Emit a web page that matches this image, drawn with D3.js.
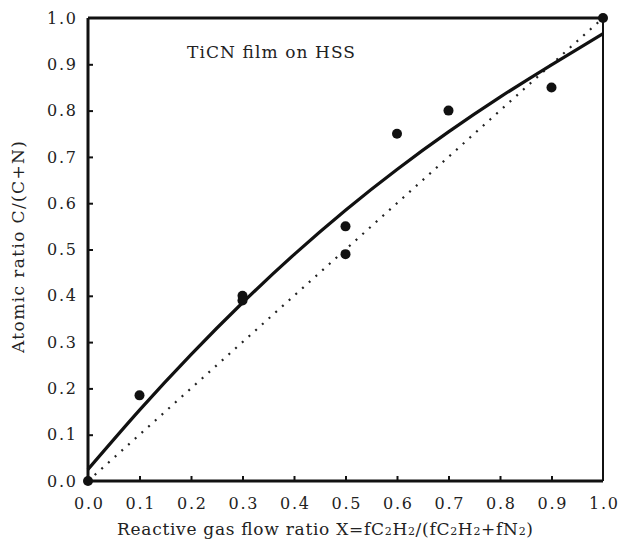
<!DOCTYPE html>
<html>
<head>
<meta charset="utf-8">
<script src="https://cdn.jsdelivr.net/npm/d3@7"></script>
<style>
  body { margin: 0; background: #fff; }
  svg text { font-family: "DejaVu Serif", "Liberation Serif", serif; fill: #222; }
</style>
</head>
<body>
<svg id="chart" width="618" height="541"></svg>
<script>
// measured points (X, C/(C+N))
const measuredX = [0.0, 0.1, 0.3, 0.3, 0.5, 0.5, 0.6, 0.7, 0.9, 1.0];
const measuredY = [0.0, 0.185, 0.40, 0.39, 0.55, 0.49, 0.75, 0.80, 0.85, 1.0];

// fitted solid curve
const fitX = [0.0, 0.1, 0.2, 0.3, 0.4, 0.5, 0.6, 0.7, 0.8, 0.9, 1.0];
const fitY = [0.025, 0.153, 0.273, 0.385, 0.489, 0.585, 0.673, 0.754, 0.829, 0.899, 0.966];

// dotted reference line
const refX = [0.0, 1.0];
const refY = [0.0, 1.0];

const ticks = [0, 0.1, 0.2, 0.3, 0.4, 0.5, 0.6, 0.7, 0.8, 0.9, 1.0];

const svg = d3.select('#chart');
const padL = 88, padR = 603, padT = 18, padB = 481;

const x = d3.scaleLinear().domain([0, 1]).range([padL, padR]);
const y = d3.scaleLinear().domain([0, 1]).range([padB, padT]);
const fmt = d3.format('.1f');

// axes, ticks pointing inside
const xAxis = svg.append('g')
  .attr('transform', 'translate(0,' + padB + ')')
  .call(d3.axisBottom(x).tickValues(ticks).tickFormat(fmt).tickSizeInner(-5).tickSizeOuter(0).tickPadding(17));
const yAxis = svg.append('g')
  .attr('transform', 'translate(' + padL + ',0)')
  .call(d3.axisLeft(y).tickValues(ticks).tickFormat(fmt).tickSizeInner(-5).tickSizeOuter(0).tickPadding(12));

[xAxis, yAxis].forEach(g => {
  g.attr('font-family', null);
  g.select('.domain').remove();
  g.selectAll('.tick line').attr('stroke', '#111').attr('stroke-width', 2);
  g.selectAll('.tick text')
    .attr('font-size', 16)
    .attr('textLength', 29)
    .attr('lengthAdjust', 'spacing')
    .attr('fill', '#444');
});
xAxis.selectAll('.tick line').filter(d => d === 0 || d === 1).remove();
yAxis.selectAll('.tick line').filter(d => d === 0 || d === 1).remove();

// frame
svg.append('line').attr('x1', x(0)).attr('x2', x(1)).attr('y1', y(1)).attr('y2', y(1))
  .attr('stroke', '#111').attr('stroke-width', 3);
svg.append('line').attr('x1', x(0)).attr('x2', x(1)).attr('y1', y(0)).attr('y2', y(0))
  .attr('stroke', '#111').attr('stroke-width', 3);
svg.append('line').attr('x1', x(0)).attr('x2', x(0)).attr('y1', y(0)).attr('y2', y(1))
  .attr('stroke', '#111').attr('stroke-width', 3);
svg.append('line').attr('x1', x(1)).attr('x2', x(1)).attr('y1', y(0)).attr('y2', y(1))
  .attr('stroke', '#111').attr('stroke-width', 2);

// dotted y = x line
const refLine = d3.line().x((d, i) => x(refX[i])).y((d, i) => y(refY[i]));
svg.append('path')
  .attr('d', refLine(refX))
  .attr('fill', 'none')
  .attr('stroke', '#222')
  .attr('stroke-width', 2.2)
  .attr('stroke-dasharray', '2,7');

// solid fitted curve
const fitLine = d3.line().x((d, i) => x(fitX[i])).y((d, i) => y(fitY[i])).curve(d3.curveNatural);
svg.append('path')
  .attr('d', fitLine(fitX))
  .attr('fill', 'none')
  .attr('stroke', '#111')
  .attr('stroke-width', 3.2);

// data points
svg.selectAll('.pt')
  .data(measuredX)
  .enter()
  .append('circle')
  .attr('class', 'pt')
  .attr('cx', (d, i) => x(d))
  .attr('cy', (d, i) => y(measuredY[i]))
  .attr('r', 5)
  .attr('fill', '#111');

// annotation
svg.append('text')
  .attr('x', 187)
  .attr('y', 58)
  .attr('font-size', 17)
  .attr('textLength', 168)
  .attr('lengthAdjust', 'spacing')
  .text('TiCN film on HSS');

// axis titles
const xt = svg.append('text')
  .attr('x', 117)
  .attr('y', 535)
  .attr('font-size', 17)
  .attr('textLength', 416)
  .attr('lengthAdjust', 'spacing');
xt.append('tspan').text('Reactive gas flow ratio X=fC');
xt.append('tspan').attr('font-size', 11).text('2');
xt.append('tspan').text('H');
xt.append('tspan').attr('font-size', 11).text('2');
xt.append('tspan').text('/(fC');
xt.append('tspan').attr('font-size', 11).text('2');
xt.append('tspan').text('H');
xt.append('tspan').attr('font-size', 11).text('2');
xt.append('tspan').text('+fN');
xt.append('tspan').attr('font-size', 11).text('2');
xt.append('tspan').text(')');

svg.append('text')
  .attr('transform', 'translate(24,353) rotate(-90)')
  .attr('font-size', 17)
  .attr('textLength', 212)
  .attr('lengthAdjust', 'spacing')
  .text('Atomic ratio C/(C+N)');
</script>
</body>
</html>
